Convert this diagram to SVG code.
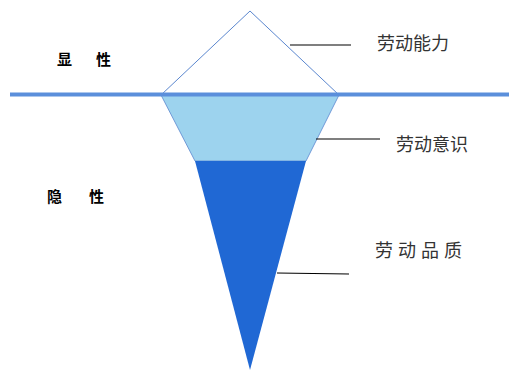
<svg xmlns="http://www.w3.org/2000/svg" width="509" height="370" viewBox="0 0 509 370">
<style>
.lbl{font-family:"Noto Sans CJK SC","Noto Sans CJK JP",sans-serif;font-size:18px;fill:#333}
.side{font-family:"Noto Sans CJK SC","Noto Sans CJK JP",sans-serif;font-size:15px;font-weight:bold;fill:#000}
.lead{stroke:#000;stroke-width:1.2;fill:none}
</style>
<rect width="509" height="370" fill="#fff"/>
<g id="top-triangle">
<polygon points="250,11 161,95 339,95" fill="#fff" stroke="#5B87CF" stroke-width="1"/>
</g>
<g id="middle-trapezoid">
<polygon points="161,95 339,95 306,161 195,161" fill="#9DD3EE" stroke="#5B87CF" stroke-width="0.8"/>
</g>
<g id="bottom-triangle">
<polygon points="195,161 306,161 250,370" fill="#2068D4"/>
</g>
<g id="waterline">
<line x1="10" y1="94.5" x2="509" y2="94.5" stroke="#5B8FDB" stroke-width="4"/>
</g>
<g id="connectors">
<line class="lead" x1="290" y1="45" x2="351" y2="45"/>
<line class="lead" x1="316" y1="139" x2="380" y2="139"/>
<line class="lead" x1="277" y1="273" x2="349" y2="274"/>
</g>
<g id="label-ability"><text class="lbl" x="377" y="50">劳动能力</text></g>
<g id="label-awareness"><text class="lbl" x="396" y="151">劳动意识</text></g>
<g id="label-quality"><text class="lbl" x="375" y="257" font-size="17" letter-spacing="5">劳动品质</text></g>
<g id="label-explicit"><text class="side" x="57" y="65">显</text><text class="side" x="96" y="65">性</text></g>
<g id="label-implicit"><text class="side" x="47" y="202">隐</text><text class="side" x="89" y="202">性</text></g>
</svg>
